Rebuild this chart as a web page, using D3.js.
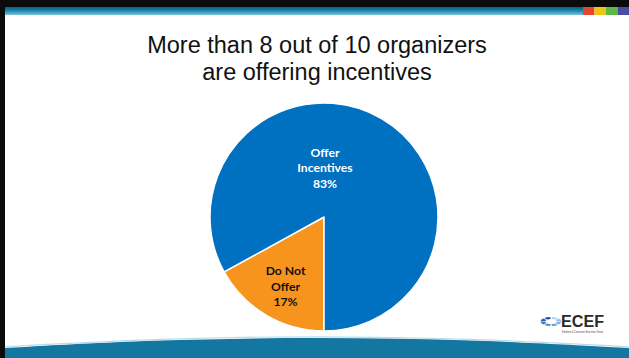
<!DOCTYPE html>
<html>
<head>
<meta charset="utf-8">
<script src="https://cdn.jsdelivr.net/npm/d3@7"></script>
<style>
  html, body { margin: 0; padding: 0; background: #fff; }
  svg { display: block; }
</style>
</head>
<body>
<svg id="chart" width="629" height="358"></svg>
<script>
// Survey share of organizers offering incentives
const categories = ["Do Not Offer", "Offer Incentives"];
const values = [17, 83];
const labelLines = [["Do Not", "Offer", "17%"], ["Offer", "Incentives", "83%"]];
const sliceColors = ["#F7941D", "#0070C0"];
const labelColors = ["#111111", "#ffffff"];
const titleLines = ["More than 8 out of 10 organizers", "are offering incentives"];
const stripeColors = ["#E2472F", "#F2C314", "#5DB946", "#4A4C9E"];

const W = 629, H = 358;
const svg = d3.select("#chart");

// Slide frame: dark top rule and left edge
svg.append("rect").attr("x", 0).attr("y", 0).attr("width", W).attr("height", 7).attr("fill", "#0b0b0b");
svg.append("rect").attr("x", 0).attr("y", 0).attr("width", 5).attr("height", H).attr("fill", "#0b0b0b");

// Teal header band with stripe shading
const hdr = svg.append("defs").append("linearGradient")
  .attr("id", "hdr").attr("x1", 0).attr("y1", 0).attr("x2", 0).attr("y2", 1);
hdr.append("stop").attr("offset", "0%").attr("stop-color", "#0b5d80");
hdr.append("stop").attr("offset", "45%").attr("stop-color", "#1a86ad");
hdr.append("stop").attr("offset", "100%").attr("stop-color", "#7ec3da");
svg.append("rect").attr("x", 5).attr("y", 7).attr("width", 578).attr("height", 8).attr("fill", "url(#hdr)");

// Colour blocks at the right end of the header
const stripeX = d3.scaleBand().domain(d3.range(stripeColors.length)).range([583, 629]);
svg.selectAll("rect.stripe").data(stripeColors).join("rect")
  .attr("class", "stripe")
  .attr("x", (d, i) => stripeX(i)).attr("y", 7)
  .attr("width", stripeX.bandwidth()).attr("height", 8)
  .attr("fill", d => d);

// Title
svg.append("text")
  .attr("text-anchor", "middle")
  .attr("font-family", "Liberation Sans, Arial, sans-serif")
  .attr("font-size", 23.5)
  .attr("fill", "#111")
  .selectAll("tspan").data(titleLines).join("tspan")
  .attr("x", 317).attr("y", (d, i) => 52.5 + i * 27)
  .text(d => d);

// Pie
const cx = 324, cy = 217, r = 114;
const pie = d3.pie().sort(null).value(d => d)
  .startAngle(Math.PI).endAngle(3 * Math.PI);
const arcs = pie(values);
const arc = d3.arc().innerRadius(0).outerRadius(r);
const g = svg.append("g").attr("transform", `translate(${cx},${cy})`);
g.selectAll("path").data(arcs).join("path")
  .attr("d", arc)
  .attr("fill", (d, i) => sliceColors[i])
  .attr("stroke", "#fff")
  .attr("stroke-width", 1.5)
  .attr("stroke-linejoin", "round");

// Slice labels
const labelPos = [
  d => { const c = d3.arc().innerRadius(r * 0.68).outerRadius(r * 0.68).centroid(d); return [c[0] + 1, c[1] + 3]; },
  d => [1, -49]
];
arcs.forEach((d, i) => {
  const [lx, ly] = labelPos[i](d);
  const t = g.append("text")
    .attr("text-anchor", "middle")
    .attr("font-family", "Lato, 'Open Sans', sans-serif")
    .attr("font-weight", "bold")
    .attr("font-size", 12.2)
    .attr("fill", labelColors[i]);
  labelLines[i].forEach((line, j) => {
    t.append("tspan").attr("x", lx).attr("y", ly + (j - 1) * 15.5 + 4).text(line);
  });
});

// Bottom wave band
const wave = d3.line().curve(d3.curveBasis);
const topPts = [[5, 348], [150, 340], [320, 337], [480, 340], [629, 348]];
svg.append("path")
  .attr("d", wave(topPts) + `L${W},${H}L5,${H}Z`)
  .attr("fill", "#1377A2");
svg.append("path")
  .attr("d", wave(topPts.map(p => [p[0], p[1] - 1.2])))
  .attr("fill", "none").attr("stroke", "#a9d3e4").attr("stroke-width", 1.2).attr("opacity", 0.8);

// ECEF logo mark
const logo = svg.append("g").attr("transform", "translate(540,312)");
const ring = d3.arc().innerRadius(5.5).outerRadius(10);
const swirl = logo.append("g").attr("transform", "translate(11,9.5) scale(1.05,0.45)");
d3.range(8).forEach(k => {
  swirl.append("path")
    .attr("d", ring({ startAngle: k * Math.PI / 4 + 0.08, endAngle: (k + 1) * Math.PI / 4 - 0.08 }))
    .attr("fill", d3.interpolateRgb("#a6d8f5", "#1d4aa8")(k / 7));
});
logo.append("text")
  .attr("x", 21).attr("y", 15)
  .attr("font-family", "Liberation Sans, Arial, sans-serif")
  .attr("font-weight", "bold").attr("font-size", 16)
  .attr("fill", "#2a2a2a")
  .attr("textLength", 43).attr("lengthAdjust", "spacingAndGlyphs")
  .text("ECEF");
logo.append("text")
  .attr("x", 22).attr("y", 20.5)
  .attr("font-family", "Liberation Sans, Arial, sans-serif")
  .attr("font-size", 2.8)
  .attr("fill", "#444")
  .attr("textLength", 41).attr("lengthAdjust", "spacingAndGlyphs")
  .text("Exhibition & Convention Executives Forum");
</script>
</body>
</html>
